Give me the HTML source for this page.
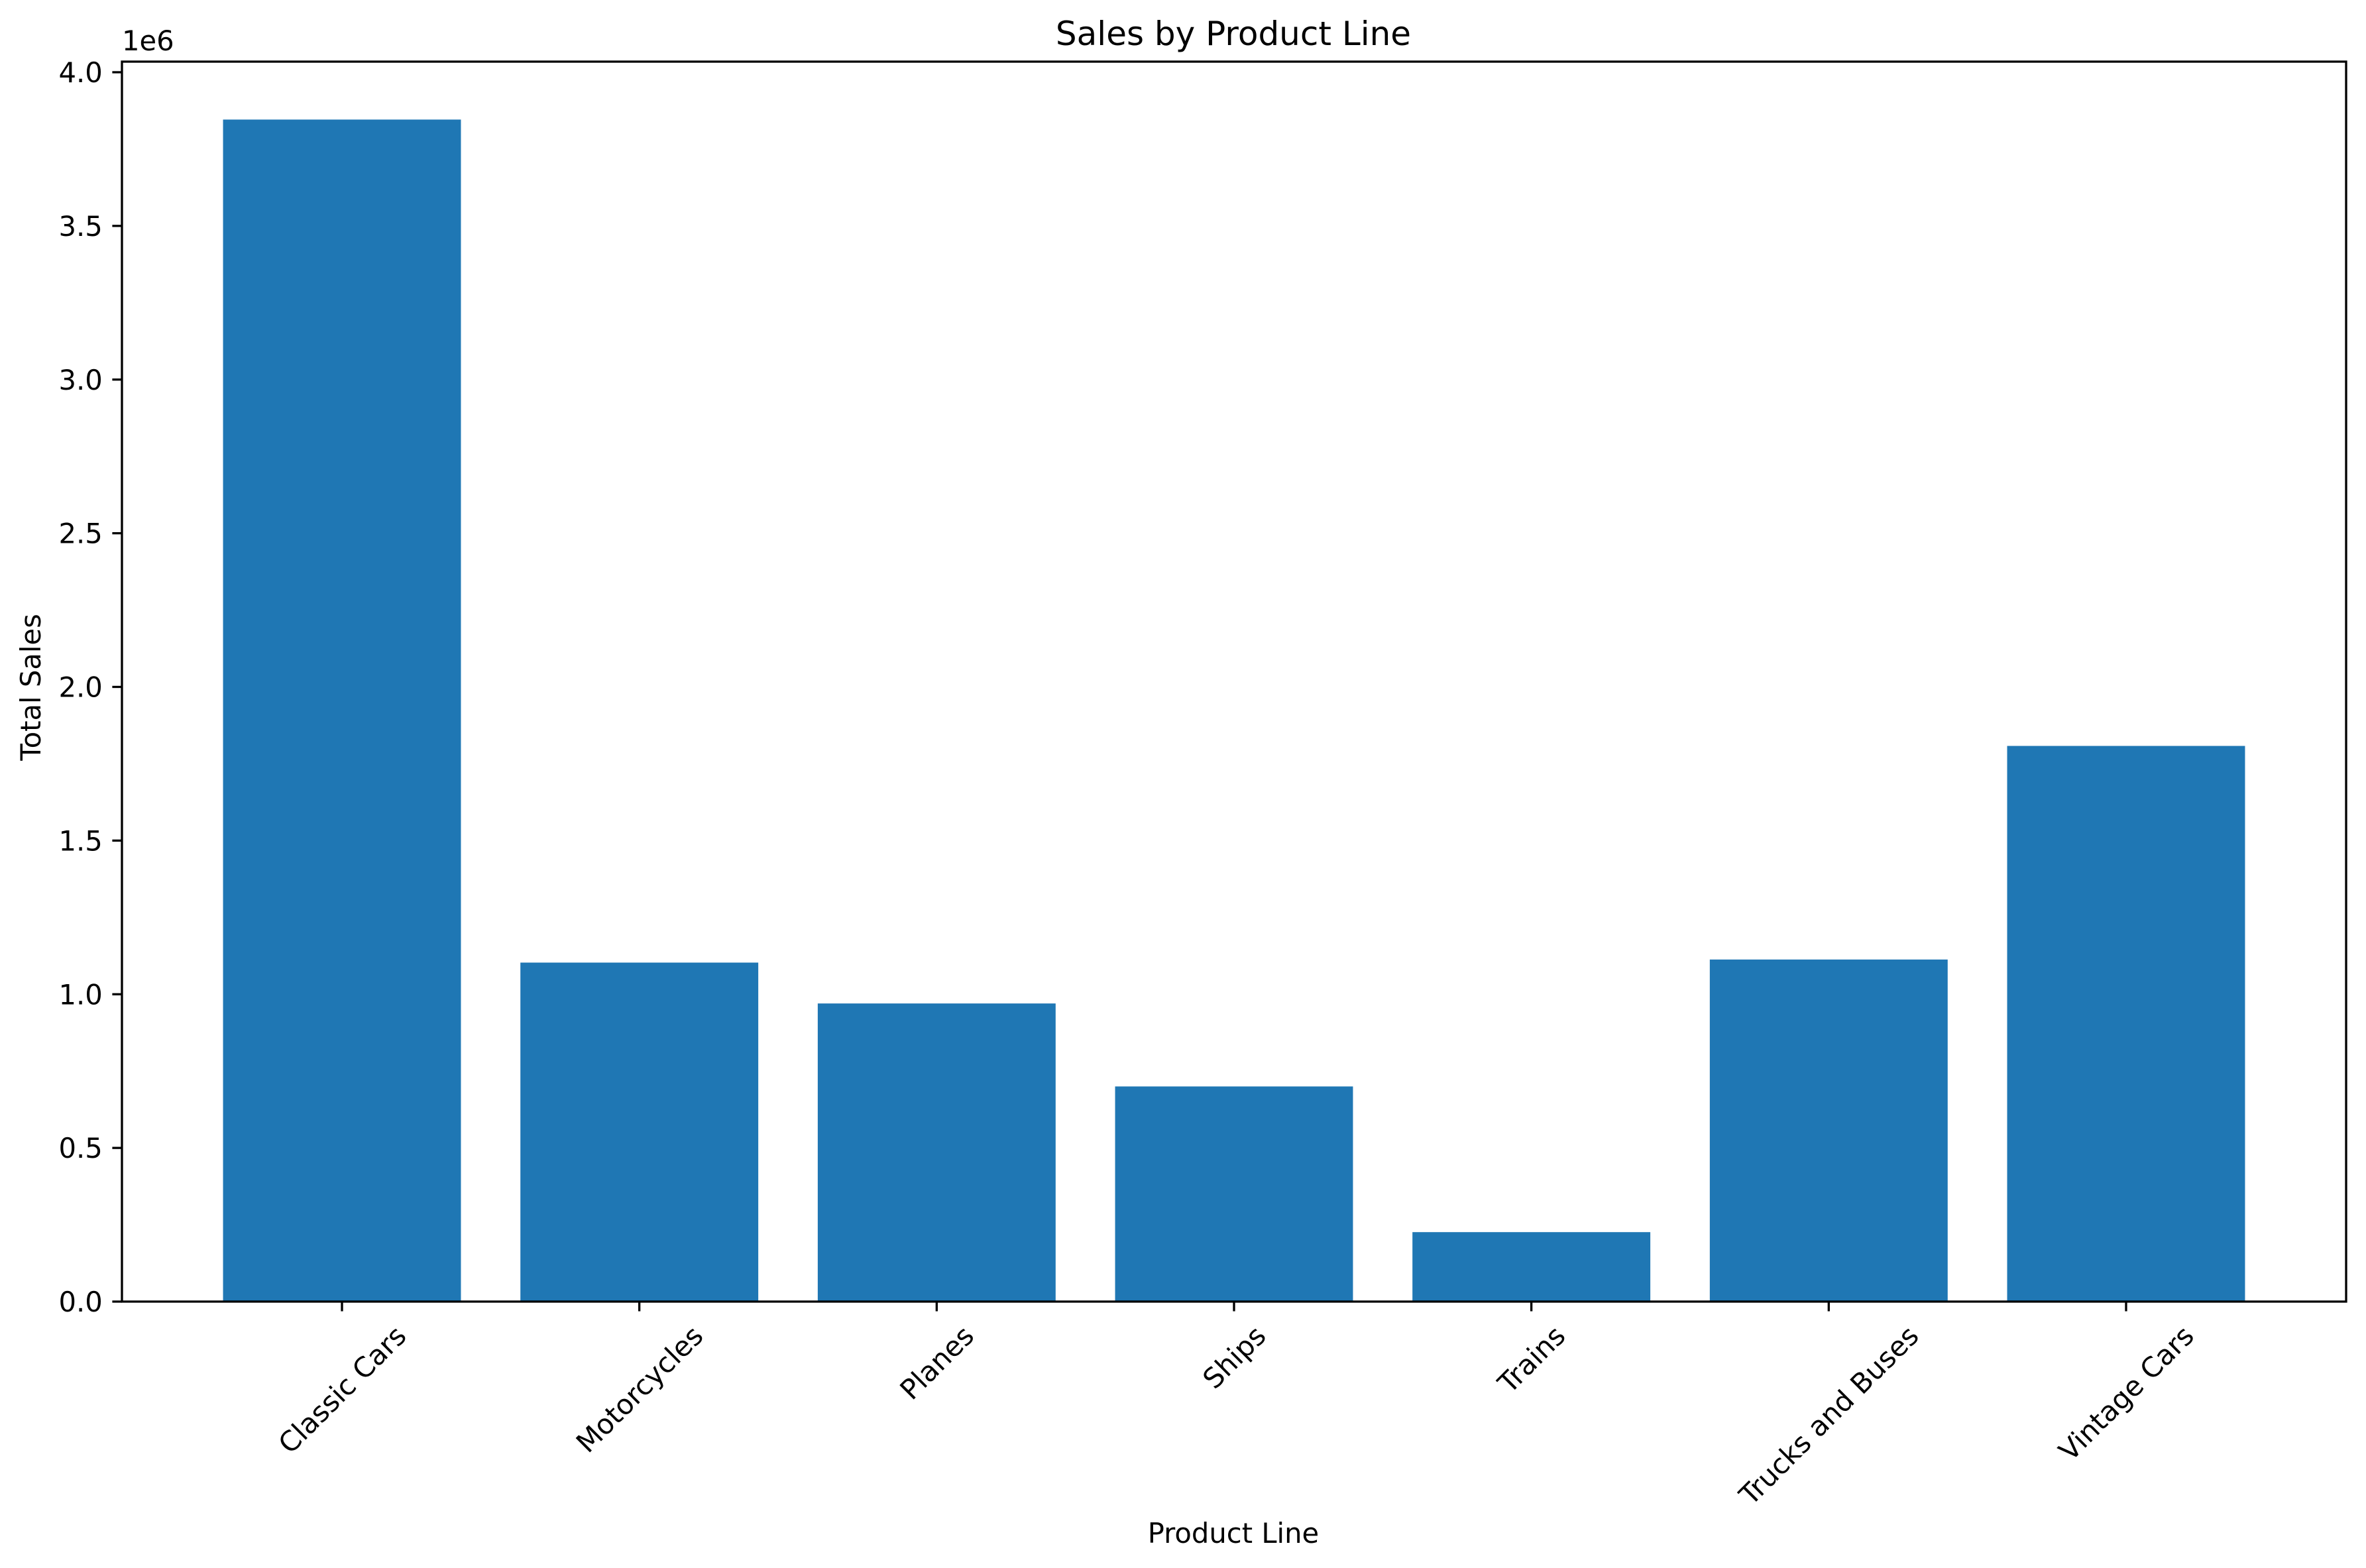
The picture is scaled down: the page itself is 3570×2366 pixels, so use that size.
<!DOCTYPE html>
<html><head><meta charset="utf-8">
<style>
html,body{margin:0;padding:0;background:#fff;}
svg{display:block;}
text{font-family:"DejaVu Sans","Liberation Sans",sans-serif;fill:#000;}
</style></head>
<body>
<svg id="chart" width="3570" height="2366" viewBox="0 0 3570 2366" xmlns="http://www.w3.org/2000/svg">
<rect x="0" y="0" width="3570" height="2366" fill="#fff"/>
<g id="bars"></g>
<g id="yticks"></g>
<g id="xticks"></g>
<rect id="frame" fill="none" stroke="#000" stroke-width="3.3"/>
<text x="1861" y="68" font-size="50" text-anchor="middle">Sales by Product Line</text>
<text x="1861" y="2328" font-size="41.7" text-anchor="middle">Product Line</text>
<text x="0" y="0" font-size="41.7" text-anchor="middle" transform="translate(61,1037) rotate(-90)">Total Sales</text>
<text x="184" y="76" font-size="41.7">1e6</text>
</svg>
<script>
const categories = ["Classic Cars","Motorcycles","Planes","Ships","Trains","Trucks and Buses","Vintage Cars"];
const salesValues = [3.846e6, 1.103e6, 0.970e6, 0.700e6, 0.226e6, 1.113e6, 1.808e6];
const yTickValues = [0, 0.5e6, 1.0e6, 1.5e6, 2.0e6, 2.5e6, 3.0e6, 3.5e6, 4.0e6];
const yTickLabels = ["0.0","0.5","1.0","1.5","2.0","2.5","3.0","3.5","4.0"];

const NS = "http://www.w3.org/2000/svg";
const plot = {left:184, right:3540, top:93, bottom:1964};
const xMin = -0.74, xMax = categories.length - 1 + 0.74;
const yMin = 0, yMax = 4.0e6, yMaxPx = 109;
function xScale(i){ return plot.left + (i - xMin) / (xMax - xMin) * (plot.right - plot.left); }
function yScale(v){ return plot.bottom - (v - yMin) / (yMax - yMin) * (plot.bottom - yMaxPx); }

const frame = document.getElementById('frame');
frame.setAttribute('x', plot.left);
frame.setAttribute('y', plot.top);
frame.setAttribute('width', plot.right - plot.left);
frame.setAttribute('height', plot.bottom - plot.top);

const barsG = document.getElementById('bars');
const barW = 0.8;
salesValues.forEach((v, i) => {
  const x0 = xScale(i - barW/2), x1 = xScale(i + barW/2);
  const r = document.createElementNS(NS, 'rect');
  r.setAttribute('x', x0);
  r.setAttribute('y', yScale(v));
  r.setAttribute('width', x1 - x0);
  r.setAttribute('height', yScale(0) - yScale(v));
  r.setAttribute('fill', '#1f77b4');
  
  
  barsG.appendChild(r);
});

const yG = document.getElementById('yticks');
yTickValues.forEach((v, i) => {
  const y = yScale(v);
  const l = document.createElementNS(NS, 'line');
  l.setAttribute('x1', plot.left - 14.6); l.setAttribute('x2', plot.left);
  l.setAttribute('y1', y); l.setAttribute('y2', y);
  l.setAttribute('stroke', '#000'); l.setAttribute('stroke-width', '3.3');
  
  
  yG.appendChild(l);
  const t = document.createElementNS(NS, 'text');
  t.setAttribute('x', plot.left - 29.2);
  t.setAttribute('y', y + 15);
  t.setAttribute('font-size', '41.7');
  t.setAttribute('text-anchor', 'end');
  t.textContent = yTickLabels[i];
  
  
  yG.appendChild(t);
});

const xG = document.getElementById('xticks');
categories.forEach((c, i) => {
  const x = xScale(i);
  const l = document.createElementNS(NS, 'line');
  l.setAttribute('x1', x); l.setAttribute('x2', x);
  l.setAttribute('y1', plot.bottom); l.setAttribute('y2', plot.bottom + 14.6);
  l.setAttribute('stroke', '#000'); l.setAttribute('stroke-width', '3.3');
  
  
  xG.appendChild(l);
  const t = document.createElementNS(NS, 'text');
  t.setAttribute('font-size', '41.7');
  t.setAttribute('text-anchor', 'middle');
  t.setAttribute('x', 0);
  t.setAttribute('y', 15);
  t.textContent = c;
  
  
  xG.appendChild(t);
  const w = t.getComputedTextLength();
  const h = 41.7;
  const cy = plot.bottom + 29 + (w + h) / (2 * Math.SQRT2);
  t.setAttribute('transform', 'translate(' + x + ',' + cy + ') rotate(-45)');
});
</script>
</body></html>
